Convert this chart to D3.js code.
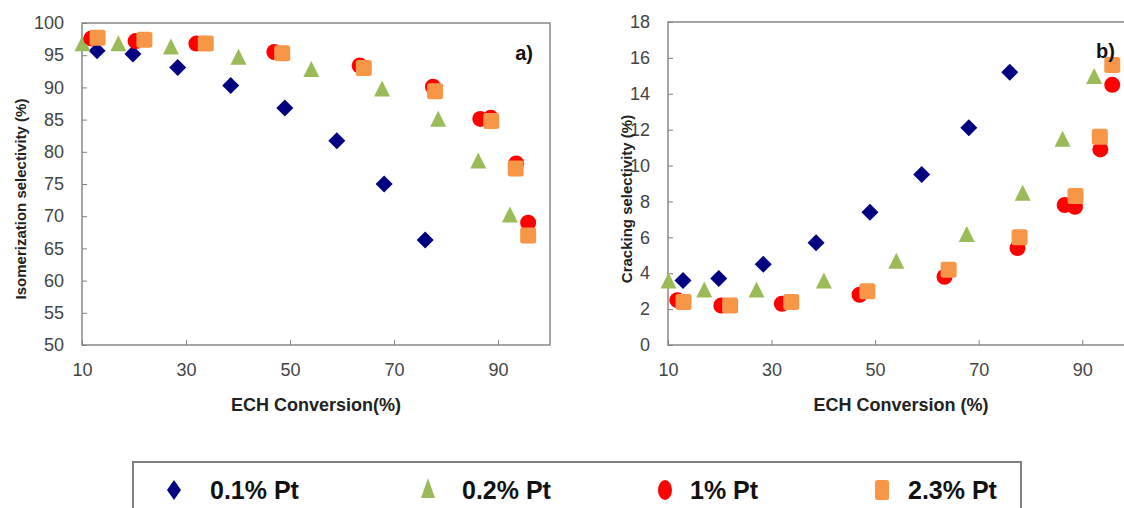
<!DOCTYPE html>
<html>
<head>
<meta charset="utf-8">
<script src="https://cdn.jsdelivr.net/npm/d3@7"></script>
<style>
  html, body { margin: 0; padding: 0; background: #fff; }
  svg { display: block; font-family: Arial, "Liberation Sans", sans-serif; }
</style>
</head>
<body>
<svg id="chart" width="1124" height="508"></svg>
<script>
// series: x = ECH conversion (%), a = isomerization selectivity (%), b = cracking selectivity (%)
const pt01x = [12.9, 19.8, 28.4, 38.6, 49.0, 59.0, 68.1, 76.0];
const pt01a = [95.7, 95.2, 93.1, 90.3, 86.8, 81.7, 75.0, 66.3];
const pt01b = [3.6, 3.7, 4.5, 5.7, 7.4, 9.5, 12.1, 15.2];

const pt02x = [10.1, 17.0, 27.1, 40.1, 54.1, 67.7, 78.5, 86.2, 92.3];
const pt02a = [96.6, 96.6, 96.1, 94.5, 92.6, 89.6, 84.9, 78.4, 70.0];
const pt02b = [3.5, 3.0, 3.0, 3.5, 4.6, 6.1, 8.4, 11.4, 14.9];

const pt1x = [11.8, 20.3, 32.0, 47.0, 63.4, 77.5, 86.6, 88.6, 93.5, 95.8];
const pt1a = [97.6, 97.2, 96.8, 95.5, 93.4, 90.1, 85.1, 85.3, 78.2, 69.0];
const pt1b = [2.5, 2.2, 2.3, 2.8, 3.8, 5.4, 7.8, 7.7, 10.9, 14.5];

const pt23x = [13.0, 22.0, 33.8, 48.5, 64.2, 77.9, 88.7, 93.4, 95.8];
const pt23a = [97.7, 97.4, 96.8, 95.3, 93.0, 89.4, 84.8, 77.4, 67.0];
const pt23b = [2.4, 2.2, 2.4, 3.0, 4.2, 6.0, 8.3, 11.6, 15.6];

const seriesNames = ["0.1% Pt", "0.2% Pt", "1% Pt", "2.3% Pt"];
const xTicks = [10, 30, 50, 70, 90];
const aTicks = [50, 55, 60, 65, 70, 75, 80, 85, 90, 95, 100];
const bTicks = [0, 2, 4, 6, 8, 10, 12, 14, 16, 18];

const svg = d3.select("#chart");

const colors = ["#000080", "#9bbb59", "#ff0000", "#f79646"];
const shapes = ["diamond", "triangle", "circle", "square"];

const series = [
	{ x: pt01x, a: pt01a, b: pt01b },
	{ x: pt02x, a: pt02a, b: pt02b },
	{ x: pt1x, a: pt1a, b: pt1b },
	{ x: pt23x, a: pt23a, b: pt23b }
];

function marker(g, shape, color, w, h) {
	if (shape === "diamond") {
		g.append("path").attr("d", `M0,${-h/2}L${w/2},0L0,${h/2}L${-w/2},0Z`).attr("fill", color);
	} else if (shape === "triangle") {
		g.append("path").attr("d", `M0,${-h*0.6}L${w/2},${h*0.4}L${-w/2},${h*0.4}Z`).attr("fill", color);
	} else if (shape === "circle") {
		g.append("ellipse").attr("rx", w/2).attr("ry", h/2).attr("fill", color);
	} else {
		g.append("rect").attr("x", -w/2).attr("y", -h/2).attr("width", w).attr("height", h)
			.attr("rx", 2.5).attr("fill", color);
	}
}

function panel(opts) {
	const x = d3.scaleLinear().domain([10, 100]).range(opts.xr);
	const y = d3.scaleLinear().domain(opts.yd).range(opts.yr);
	const g = svg.append("g");

	g.append("g")
		.attr("transform", `translate(0,${opts.yr[0]})`)
		.call(d3.axisBottom(x).tickValues(xTicks).tickSizeInner(-5).tickSizeOuter(0).tickPadding(18))
		.call(a => a.select(".domain").remove())
		.call(a => a.selectAll("line").attr("stroke", "#808080"))
		.call(a => a.selectAll("text").attr("font-size", 18).attr("fill", "#444"));

	g.append("g")
		.attr("transform", `translate(${opts.xr[0]},0)`)
		.call(d3.axisLeft(y).tickValues(opts.ticks).tickSizeInner(-5).tickSizeOuter(0).tickPadding(18))
		.call(a => a.select(".domain").remove())
		.call(a => a.selectAll("line").attr("stroke", "#808080"))
		.call(a => a.selectAll("text").attr("font-size", 18).attr("fill", "#444"));

	g.append("rect")
		.attr("x", opts.xr[0]).attr("y", opts.yr[1])
		.attr("width", opts.xr[1] - opts.xr[0]).attr("height", opts.yr[0] - opts.yr[1])
		.attr("fill", "none").attr("stroke", "#808080").attr("stroke-width", 1.4);

	series.forEach((s, i) => {
		s.x.forEach((xv, j) => {
			const m = g.append("g").attr("transform", `translate(${x(xv)},${y(s[opts.key][j])})`);
			marker(m, shapes[i], colors[i], i === 0 ? 17 : 16, i === 0 ? 17 : 16);
		});
	});

	g.append("text")
		.attr("x", opts.labelX).attr("y", opts.labelY)
		.attr("text-anchor", "end").attr("font-size", 20).attr("font-weight", "bold")
		.attr("fill", "#111").text(opts.label);

	g.append("text")
		.attr("x", (opts.xr[0] + opts.xr[1]) / 2).attr("y", 411)
		.attr("text-anchor", "middle").attr("font-size", 18).attr("font-weight", "bold")
		.attr("fill", "#222").text(opts.xTitle);

	g.append("text")
		.attr("transform", `translate(${opts.yTitleX},199) rotate(-90)`)
		.attr("text-anchor", "middle").attr("dominant-baseline", "central")
		.attr("font-size", 15).attr("font-weight", "bold")
		.attr("fill", "#222").text(opts.yTitle);
}

panel({
	xr: [82, 550], yr: [345, 23], yd: [50, 100], ticks: aTicks, key: "a",
	label: "a)", labelX: 533, labelY: 60,
	xTitle: "ECH Conversion(%)", yTitle: "Isomerization selectivity (%)", yTitleX: 20
});

panel({
	xr: [668, 1134], yr: [345, 22], yd: [0, 18], ticks: bTicks, key: "b",
	label: "b)", labelX: 1115, labelY: 58,
	xTitle: "ECH Conversion (%)", yTitle: "Cracking selectivity (%)", yTitleX: 626
});

// legend
const leg = svg.append("g");
leg.append("rect")
	.attr("x", 133).attr("y", 462).attr("width", 888).attr("height", 70)
	.attr("fill", "#fff").attr("stroke", "#808080").attr("stroke-width", 2);

const legMarkX = [174, 428, 665, 882];
const legTextX = [210, 462, 690, 908];
seriesNames.forEach((name, i) => {
	const m = leg.append("g").attr("transform", `translate(${legMarkX[i]},490)`);
	marker(m, shapes[i], colors[i], 14, 20);
	leg.append("text")
		.attr("x", legTextX[i]).attr("y", 499)
		.attr("font-size", 25).attr("font-weight", "bold").attr("fill", "#111")
		.text(name);
});
</script>
</body>
</html>
